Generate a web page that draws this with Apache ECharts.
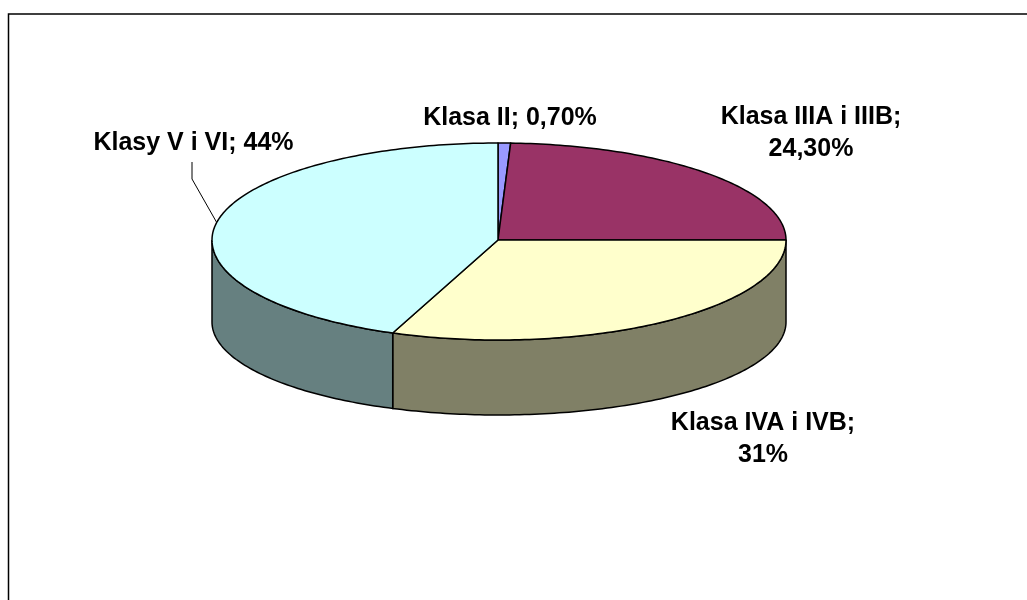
<!DOCTYPE html>
<html><head><meta charset="utf-8">
<style>html,body{margin:0;padding:0;background:#fff}#c{width:1027px;height:600px}</style>
<script src="https://cdn.jsdelivr.net/npm/echarts@6/dist/echarts.min.js"></script>
</head><body><div id="c"></div>
<script>
const categories = ['Klasa II', 'Klasa IIIA i IIIB', 'Klasa IVA i IVB', 'Klasy V i VI'];
const shareValues = [0.7, 24.3, 31, 44];
const shareLabels = ['0,70%', '24,30%', '31%', '44%'];
const topColors = ['#9999FF', '#993366', '#FFFFCC', '#CCFFFF'];
const wallColors = ['#4D4D80', '#4D1A33', '#808066', '#668080'];
const labelBreaks = ['; ', ';\n', ';\n', '; '];
const labelAnchors = [[510, 118], [811, 133], [763, 439], [193.5, 143]];

const CX = 498, CY = 240, RX_LEFT = 286, RX_RIGHT = 288, RY_BACK = 97, RY_FRONT = 100, DEPTH_Y = 82, RY_BOTTOM = 93;
const total = shareValues.reduce((a, b) => a + b, 0);
const toAngle = v => v / total * Math.PI * 2;
const xAt = a => { const s = Math.sin(a); return CX + (s >= 0 ? RX_RIGHT : RX_LEFT) * s; };
const topPt = a => {
  const c = Math.cos(a);
  return [xAt(a), CY - (c >= 0 ? RY_BACK : RY_FRONT) * c];
};
const botPt = a => {
  const c = Math.cos(a);
  return [xAt(a), CY + DEPTH_Y - (c >= 0 ? RY_BACK : RY_BOTTOM) * c];
};
const sweep = (a0, a1, fn) => {
  const n = Math.max(2, Math.ceil((a1 - a0) / (Math.PI / 180)));
  const out = [];
  for (let i = 0; i <= n; i++) out.push(fn(a0 + (a1 - a0) * i / n));
  return out;
};
const lineStyle = { stroke: '#000', lineWidth: 1.5 };

function renderSlice(params, api) {
  const i = params.dataIndex;
  let before = 0;
  for (let k = 0; k < i; k++) before += shareValues[k];
  const a0 = toAngle(before), a1 = toAngle(before + api.value(0));
  const children = [];
  // visible wall: only the front half of the rim (90deg to 270deg clockwise from top)
  const w0 = Math.max(a0, Math.PI / 2), w1 = Math.min(a1, Math.PI * 1.5);
  if (w1 > w0) {
    children.push({
      type: 'polygon',
      shape: { points: sweep(w0, w1, topPt).concat(sweep(w0, w1, botPt).reverse()) },
      style: Object.assign({ fill: wallColors[i] }, lineStyle)
    });
  }
  children.push({
    type: 'polygon',
    shape: { points: [[CX, CY]].concat(sweep(a0, a1, topPt)) },
    style: Object.assign({ fill: topColors[i], lineJoin: 'round' }, lineStyle)
  });
  return { type: 'group', children };
}
function renderLabel(params, api) {
  const i = params.dataIndex;
  const [x, y] = labelAnchors[i];
  return {
    type: 'text', x, y,
    style: {
      text: categories[i] + labelBreaks[i] + shareLabels[i],
      x: 0, y: 0, align: 'center', verticalAlign: 'middle',
      font: 'bold 25px "Liberation Sans", Arial, sans-serif',
      lineHeight: 32, fill: '#000'
    }
  };
}
const chart = echarts.init(document.getElementById('c'), null, { renderer: 'canvas' });
chart.setOption({
  animation: false,
  backgroundColor: '#fff',
  graphic: [
    { type: 'polyline', z: 1, shape: { points: [[8.5, 600], [8.5, 14], [1027, 14]] }, style: { fill: null, stroke: '#000', lineWidth: 1.5 } },
    { type: 'polyline', z: 1, shape: { points: [[192, 162], [192, 179], [217, 223]] }, style: { fill: null, stroke: '#000', lineWidth: 1 } }
  ],
  series: [
    { type: 'custom', coordinateSystem: 'none', renderItem: renderSlice, data: shareValues.map(v => [v]), silent: true, z: 2 },
    { type: 'custom', coordinateSystem: 'none', renderItem: renderLabel, data: shareValues.map(v => [v]), silent: true, z: 3 }
  ]
});
</script></body></html>
